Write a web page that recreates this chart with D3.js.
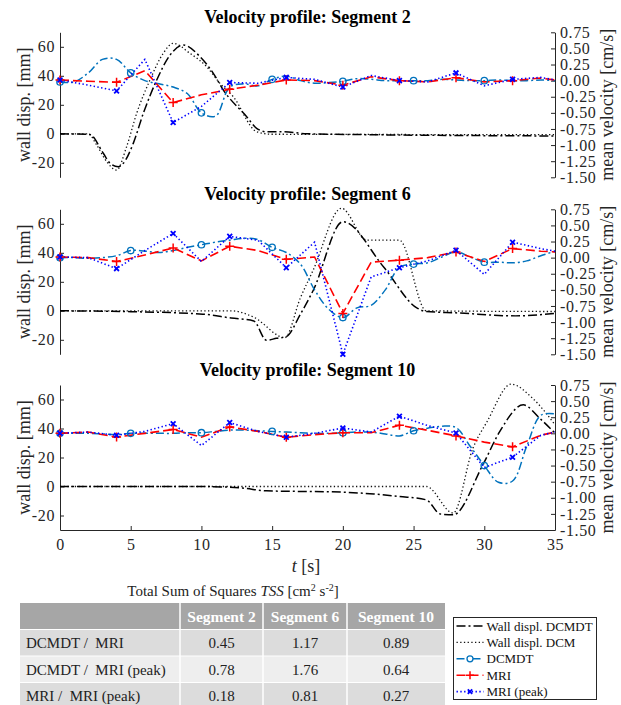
<!DOCTYPE html>
<html><head><meta charset="utf-8">
<script src="https://cdn.jsdelivr.net/npm/d3@7"></script>
<style>body{margin:0;background:#fff;} svg{display:block;}</style>
</head><body>
<svg id="c" width="621" height="705"></svg>
<script>
// ---------------- DATA ----------------
const segmentNames = ["Segment 2", "Segment 6", "Segment 10"];
const leftTicks = [-20, 0, 20, 40, 60];
const rightTicks = [-1.5, -1.25, -1.0, -0.75, -0.5, -0.25, 0, 0.25, 0.5, 0.75];
const xTicks = [0, 5, 10, 15, 20, 25, 30, 35];

// wall displacement (left axis, mm) – breakpoints
const s2WallDCMDT_t = [0, 2.1, 3.06, 3.54, 4.12, 4.48, 5.18, 5.89, 6.84, 7.78, 8.72, 9.9, 10.84, 11.55, 13.2, 13.9, 14.6, 15.8, 17.5, 35];
const s2WallDCMDT_v = [0, -0.5, -13.4, -20.3, -22.7, -20.3, -6.6, 14.1, 37.1, 54.3, 61.2, 53.2, 41.7, 30.2, 11.8, 3.8, 1.4, 1.5, 0, -1.5];
const s2WallDCM_t = [0, 2.0, 2.59, 3.3, 4.0, 4.71, 5.42, 6.36, 7.3, 8.0, 9.19, 10.37, 11.31, 12.25, 13.9, 15, 35];
const s2WallDCM_v = [0, 0, -7.7, -19.2, -25, -8.9, 14.1, 37.1, 55.5, 62.4, 55.5, 46.3, 34.8, 25.6, 1.5, -0.3, -0.6];

const s6WallDCMDT_t = [0, 5, 10.1, 12.1, 13.7, 14.6, 15.3, 16.0, 17.0, 17.9, 20.0, 22.9, 25.2, 25.9, 28, 32.2, 35];
const s6WallDCMDT_v = [0, -0.6, -2.3, -5, -7, -20.3, -19, -17.8, -2.3, 14, 61.4, 30, 2.2, -0.5, -1.4, -3.5, -1.8];
const s6WallDCM_t = [0, 12.1, 13.7, 15.9, 17.0, 17.9, 19.9, 21.7, 24.0, 25.9, 35];
const s6WallDCM_v = [0, 0, -4.4, -18.5, 9, 28, 70.7, 48.7, 48.7, 0, -0.5];

const s10WallDCMDT_t = [0, 10, 12.9, 14.6, 17, 20, 22.2, 24, 25.9, 26.9, 27.8, 29.9, 31.1, 32.76, 33.9, 35];
const s10WallDCMDT_v = [0, 0, -1.1, -3, -3.4, -3.9, -5.2, -6.9, -9.2, -19, -19.5, 15, 38, 56.3, 47.2, 36.8];
const s10WallDCM_t = [0, 25.9, 27.8, 29.2, 30.2, 31.9, 33.4, 35];
const s10WallDCM_v = [0, 0, -18.3, 26.5, 44.8, 70.6, 61, 42.6];

// mean velocity (right axis, cm/s)
const tDCMDT = [0,1,2,3,4,5,6,7,8,9,10,11,12,13,14,15,16,17,18,19,20,21,22,23,24,25,26,27,28,29,30,31,32,33,34,35];
const s2DCMDT = [-0.02,-0.02,0.12,0.33,0.33,0.12,0.0,-0.05,-0.1,-0.2,-0.5,-0.55,-0.1,-0.05,-0.08,0.02,0.07,0.0,-0.04,-0.03,-0.01,0.03,0.02,0.0,0.0,0.0,0.0,0.02,0.01,0.0,0.0,0.01,0.0,0.0,0.01,0.0];
const s6DCMDT = [0.0,0.0,-0.01,0.0,0.03,0.11,0.1,0.08,0.11,0.16,0.2,0.24,0.27,0.3,0.28,0.16,0.08,-0.1,-0.5,-0.8,-0.93,-0.78,-0.74,-0.5,-0.15,-0.1,-0.08,0.01,0.09,0.01,-0.07,-0.07,-0.08,-0.05,0.03,0.1];
const s10DCMDT = [0,0,0,-0.01,-0.02,0.0,0.0,0.0,0.0,0.01,0.01,0.03,0.05,0.05,0.04,0.03,0.02,0.01,0.0,0.0,0.01,0.02,0.02,-0.01,-0.04,0.04,0.08,0.11,0.09,-0.2,-0.5,-0.76,-0.74,-0.2,0.28,0.3];

const tMRI = [0,2,4,6,8,10,12,14,16,18,20,22,24,26,28,30,32,34,35];
const s2MRI = [0.01,-0.01,-0.026,0.154,-0.34,-0.22,-0.135,-0.07,0.01,0.0,-0.07,0.06,0.0,-0.02,0.045,-0.02,0.0,0.04,0.01];
const s2MRIpeak = [0.01,-0.07,-0.16,0.33,-0.65,-0.4,-0.03,-0.04,0.05,0.02,-0.10,0.08,0.0,-0.02,0.12,-0.08,0.02,0.05,0.01];
const s6MRI = [0.01,0.0,-0.06,0.04,0.15,-0.05,0.177,0.11,-0.027,0.01,-0.865,-0.07,-0.04,0.0,0.087,-0.06,0.14,0.10,0.09];
const s6MRIpeak = [0.01,0.0,-0.17,0.11,0.375,-0.06,0.33,0.27,-0.156,0.24,-1.5,-0.30,-0.156,-0.05,0.114,-0.26,0.24,0.14,0.10];
const s10MRI = [0.0,0.02,-0.058,0.0,0.06,-0.06,0.10,0.03,-0.06,-0.02,0.01,0.01,0.125,0.047,-0.04,-0.136,-0.21,-0.03,0.02];
const s10MRIpeak = [0.0,0.02,-0.03,0.03,0.15,-0.19,0.167,0.03,-0.06,0.0,0.083,0.02,0.266,0.12,0.005,-0.53,-0.37,-0.03,0.02];

// table
const tableTitle = "Total Sum of Squares";
const rowLabels = ["DCMDT /  MRI", "DCMDT /  MRI (peak)", "MRI /  MRI (peak)"];
const tssSeg2 = [0.45, 0.78, 0.18];
const tssSeg6 = [1.17, 1.76, 0.81];
const tssSeg10 = [0.89, 0.64, 0.27];

const legendLabels = ["Wall displ. DCMDT", "Wall displ. DCM", "DCMDT", "MRI", "MRI (peak)"];

// ---------------- DRAW ----------------
const FONT = "'Liberation Serif','Times New Roman',Times,serif";
const AX = "#262626";
const C_DCMDT = "#0072BD", C_MRI = "#FF0000", C_PEAK = "#0000FF";
const styles = {
  wallDCMDT: {stroke: "#000", width: 1.5, dash: "9,3,2,3"},
  wallDCM: {stroke: "#111", width: 1.3, dash: "1.3,2.4"},
  dcmdt: {stroke: C_DCMDT, width: 1.5, dash: "8,3,2,3"},
  mri: {stroke: C_MRI, width: 1.6, dash: "9,4"},
  peak: {stroke: C_PEAK, width: 1.6, dash: "1.4,2.4"}
};

const svg = d3.select("#c").attr("font-family", FONT);
const x = d3.scaleLinear().domain([0, 35]).range([60, 555]);
const panelTops = [32.3, 209.3, 385];
const panelH = 145;

const panels = [
  {wD: [s2WallDCMDT_t, s2WallDCMDT_v], wM: [s2WallDCM_t, s2WallDCM_v], dc: s2DCMDT, mri: s2MRI, pk: s2MRIpeak},
  {wD: [s6WallDCMDT_t, s6WallDCMDT_v], wM: [s6WallDCM_t, s6WallDCM_v], dc: s6DCMDT, mri: s6MRI, pk: s6MRIpeak},
  {wD: [s10WallDCMDT_t, s10WallDCMDT_v], wM: [s10WallDCM_t, s10WallDCM_v], dc: s10DCMDT, mri: s10MRI, pk: s10MRIpeak}
];

function styleAxis(g) {
  g.selectAll("path.domain").attr("stroke", AX).attr("stroke-width", 1);
  g.selectAll(".tick line").attr("stroke", AX);
  g.selectAll(".tick text").attr("fill", AX).attr("font-size", 16).attr("letter-spacing", 0.6).attr("font-family", FONT);
}
function applyStyle(sel, s) {
  sel.attr("fill", "none").attr("stroke", s.stroke).attr("stroke-width", s.width).attr("stroke-dasharray", s.dash);
}
function plusPath(cx, cy, r) { return `M${cx - r},${cy}H${cx + r}M${cx},${cy - r}V${cy + r}`; }
function timesPath(cx, cy, r) { return `M${cx - r},${cy - r}L${cx + r},${cy + r}M${cx - r},${cy + r}L${cx + r},${cy - r}`; }

panels.forEach((p, i) => {
  const top = panelTops[i], bot = top + panelH;
  const yL = d3.scaleLinear().domain([-30, 70]).range([bot, top]);
  const yR = d3.scaleLinear().domain([-1.5, 0.75]).range([bot, top]);
  const g = svg.append("g");

  g.append("text").attr("x", 307.5).attr("y", top - 9.5).attr("text-anchor", "middle")
    .attr("font-weight", "bold").attr("font-size", 18).attr("fill", "#000")
    .text("Velocity profile: " + segmentNames[i]);

  const aL = g.append("g").attr("transform", "translate(60,0)")
    .call(d3.axisLeft(yL).tickValues(leftTicks).tickSizeInner(-4).tickSizeOuter(0).tickPadding(5).tickFormat(d => String(d)));
  styleAxis(aL);
  const aR = g.append("g").attr("transform", "translate(555,0)")
    .call(d3.axisRight(yR).tickValues(rightTicks).tickSizeInner(-4).tickSizeOuter(0).tickPadding(5).tickFormat(d => d.toFixed(2)));
  styleAxis(aR);
  if (i === 2) {
    const aB = g.append("g").attr("transform", `translate(0,${bot})`)
      .call(d3.axisBottom(x).tickValues(xTicks).tickSizeInner(-4).tickSizeOuter(0).tickPadding(9));
    styleAxis(aB);
  }

  g.append("text").attr("transform", `translate(30,${(top + bot) / 2}) rotate(-90)`)
    .attr("text-anchor", "middle").attr("font-size", 18).attr("fill", AX).text("wall disp. [mm]");
  g.append("text").attr("transform", `translate(613,${(top + bot) / 2}) rotate(-90)`)
    .attr("text-anchor", "middle").attr("font-size", 18).attr("fill", AX).text("mean velocity [cm/s]");

  // wall displacements
  const wallLine = d3.line().x(d => x(d[0])).y(d => yL(d[1])).curve(d3.curveMonotoneX);
  applyStyle(g.append("path").attr("d", wallLine(d3.zip(p.wM[0], p.wM[1]))), styles.wallDCM);
  applyStyle(g.append("path").attr("d", wallLine(d3.zip(p.wD[0], p.wD[1]))), styles.wallDCMDT);

  // velocities
  const dcData = d3.zip(tDCMDT, p.dc);
  const vSmooth = d3.line().x(d => x(d[0])).y(d => yR(d[1])).curve(d3.curveCatmullRom.alpha(0.5));
  const vLin = d3.line().x(d => x(d[0])).y(d => yR(d[1]));
  applyStyle(g.append("path").attr("d", vSmooth(dcData)), styles.dcmdt);
  const mriData = d3.zip(tMRI, p.mri);
  const pkData = d3.zip(tMRI, p.pk);
  applyStyle(g.append("path").attr("d", vLin(mriData)), styles.mri);
  applyStyle(g.append("path").attr("d", vLin(pkData)), styles.peak);

  // markers
  g.selectAll(null).data(dcData.filter(d => d[0] % 5 === 0 && d[0] < 35)).enter().append("circle")
    .attr("cx", d => x(d[0])).attr("cy", d => yR(d[1])).attr("r", 3.2)
    .attr("fill", "none").attr("stroke", C_DCMDT).attr("stroke-width", 1.3);
  g.selectAll(null).data(mriData.filter(d => d[0] % 4 === 0)).enter().append("path")
    .attr("d", d => plusPath(x(d[0]), yR(d[1]), 4.5)).attr("stroke", C_MRI).attr("stroke-width", 1.5).attr("fill", "none");
  g.selectAll(null).data(pkData.filter(d => d[0] % 4 === 0)).enter().append("path")
    .attr("d", d => timesPath(x(d[0]), yR(d[1]), 2.4)).attr("stroke", C_PEAK).attr("stroke-width", 1.8).attr("fill", "none");
});

// x label
const xl = svg.append("text").attr("x", 306).attr("y", 572).attr("text-anchor", "middle").attr("font-size", 18).attr("fill", AX);
xl.append("tspan").attr("font-style", "italic").text("t");
xl.append("tspan").text(" [s]");

// ---------------- TABLE ----------------
const colX = [20, 180, 263, 347, 445];
const headerTop = 603, headerH = 26, rowH = 26.5;
const tg = svg.append("g");
const tt = tg.append("text").attr("x", 233).attr("y", 596).attr("text-anchor", "middle").attr("font-size", 15).attr("fill", "#222");
tt.append("tspan").text(tableTitle + " ");
tt.append("tspan").attr("font-style", "italic").text("TSS");
tt.append("tspan").text(" [cm");
tt.append("tspan").attr("font-size", 10).attr("dy", -5).text("2");
tt.append("tspan").attr("dy", 5).text(" s");
tt.append("tspan").attr("font-size", 10).attr("dy", -5).text("-2");
tt.append("tspan").attr("dy", 5).text("]");

tg.append("rect").attr("x", colX[0]).attr("y", headerTop).attr("width", colX[4] - colX[0]).attr("height", headerH).attr("fill", "#a6a6a6");
const rowFill = ["#dcdcdc", "#eeeeee", "#dcdcdc"];
rowLabels.forEach((lab, r) => {
  const ry = headerTop + headerH + 1 + r * rowH;
  tg.append("rect").attr("x", colX[0]).attr("y", ry).attr("width", colX[4] - colX[0]).attr("height", rowH - 1).attr("fill", rowFill[r]);
  tg.append("text").attr("x", 26).attr("y", ry + rowH / 2 + 5).attr("font-size", 15).attr("fill", "#222")
    .style("white-space", "pre").text(lab);
  [tssSeg2, tssSeg6, tssSeg10].forEach((arr, c) => {
    tg.append("text").attr("x", (colX[c + 1] + colX[c + 2]) / 2).attr("y", ry + rowH / 2 + 5)
      .attr("text-anchor", "middle").attr("font-size", 15).attr("fill", "#222").text(arr[r].toFixed(2));
  });
});
segmentNames.forEach((s, c) => {
  tg.append("text").attr("x", (colX[c + 1] + colX[c + 2]) / 2).attr("y", headerTop + headerH / 2 + 5.5)
    .attr("text-anchor", "middle").attr("font-size", 15.5).attr("font-weight", "bold").attr("fill", "#fff").text(s);
});
[1, 2, 3].forEach(k => {
  tg.append("line").attr("x1", colX[k]).attr("x2", colX[k]).attr("y1", headerTop).attr("y2", 705)
    .attr("stroke", "#fff").attr("stroke-width", 1.5);
});

// ---------------- LEGEND ----------------
const lg = svg.append("g");
lg.append("rect").attr("x", 453.5).attr("y", 617.5).attr("width", 143).attr("height", 82).attr("fill", "#fff").attr("stroke", AX).attr("stroke-width", 1);
const legStyles = [styles.wallDCMDT, styles.wallDCM, styles.dcmdt, styles.mri, styles.peak];
legendLabels.forEach((lab, k) => {
  const ly = 626 + k * 16.4;
  const st = legStyles[k];
  lg.append("line").attr("x1", 456.5).attr("x2", 483.5).attr("y1", ly).attr("y2", ly)
    .attr("stroke", st.stroke).attr("stroke-width", st.width).attr("stroke-dasharray", st.dash);
  if (k === 2) lg.append("circle").attr("cx", 470).attr("cy", ly).attr("r", 3).attr("fill", "#fff").attr("stroke", C_DCMDT).attr("stroke-width", 1.3);
  if (k === 3) lg.append("path").attr("d", plusPath(470, ly, 4)).attr("stroke", C_MRI).attr("stroke-width", 1.5);
  if (k === 4) lg.append("path").attr("d", timesPath(470, ly, 2.2)).attr("stroke", C_PEAK).attr("stroke-width", 1.8);
  lg.append("text").attr("x", 486.5).attr("y", ly + 4.5).attr("font-size", 13).attr("fill", "#111").text(lab);
});
</script>
</body></html>
